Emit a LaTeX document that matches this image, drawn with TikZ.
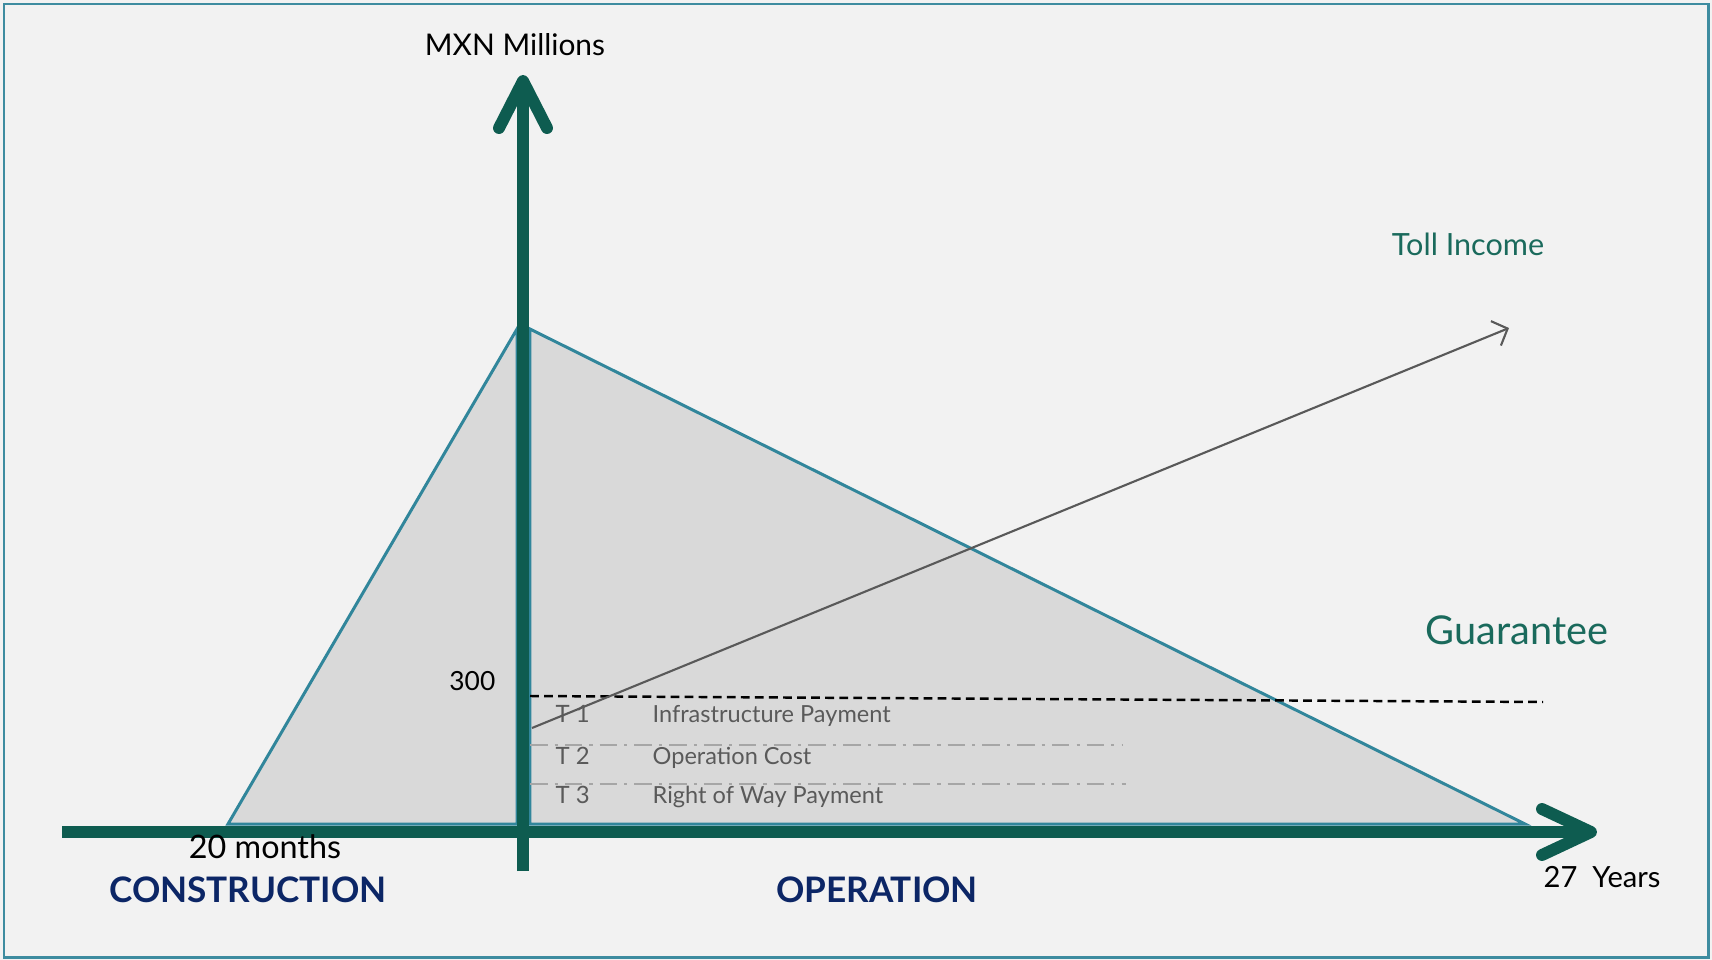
\documentclass[tikz,border=0pt]{standalone}
\usepackage{fontspec}
\setmainfont{Lato}
\usetikzlibrary{arrows.meta}

\definecolor{bggray}{RGB}{242,242,242}
\definecolor{frameteal}{RGB}{62,140,160}
\definecolor{axisgreen}{RGB}{14,92,80}
\definecolor{edgeteal}{RGB}{49,134,155}
\definecolor{areagray}{RGB}{217,217,217}
\definecolor{tollgray}{RGB}{89,89,89}
\definecolor{tiergray}{RGB}{166,166,166}
\definecolor{labelgray}{RGB}{90,90,90}
\definecolor{textgreen}{RGB}{26,106,92}
\definecolor{phasenavy}{RGB}{12,38,102}

\tikzset{
  axis/.style={draw=axisgreen, line width=3.4pt},
  axistip/.style={axis, line cap=round, line join=round},
  area/.style={fill=areagray, draw=edgeteal, line width=0.85pt, line join=miter},
  toll/.style={draw=tollgray, line width=0.6pt, -{Straight Barb[length=3.6pt,width=7.5pt]}},
  guarantee/.style={draw=black, line width=0.7pt, dash pattern=on 2.5pt off 1.5pt},
  tier/.style={draw=tiergray, line width=0.6pt, dash pattern=on 5pt off 2pt on 0.9pt off 2pt},
  lbl/.style={inner sep=0pt, font=\fontsize{#1}{#1}\selectfont},
  lbl/.default=9pt
}

\begin{document}
\begin{tikzpicture}[x=0.1mm, y=-0.1mm]
  \useasboundingbox (0,0) rectangle (1712,960);
  \fill[bggray] (0,0) rectangle (1712,960);
  \draw[frameteal, line width=0.85pt] (4,4) rectangle (1708,957);

  % axes end points
  \coordinate (O) at (523,832);
  \coordinate (ytop) at (523,81);
  \coordinate (ybot) at (523,871);
  \coordinate (xleft) at (62,832);
  \coordinate (xtip) at (1591,832);

  % construction and operation areas
  \coordinate (cstart) at (228,824);
  \coordinate (cpeak) at (517,329);
  \coordinate (cend) at (517,824);
  \coordinate (opeak) at (530,329);
  \coordinate (oend) at (1525,824);
  \coordinate (obase) at (530,824);
  \draw[area] (cstart) -- (cpeak) -- (cend) -- cycle;
  \draw[area] (opeak) -- (oend) -- (obase) -- cycle;

  % axes
  \draw[axis] (xleft) -- (xtip);
  \draw[axis] (ybot) -- (ytop);
  \draw[axistip] (xtip) ++(-49,-23) -- (xtip) -- ++(-49,23);
  \draw[axistip] (ytop) ++(-24,47) -- (ytop) -- ++(24,47);

  % tiers and guarantee
  \coordinate (g1) at (530,696);
  \coordinate (g2) at (1543,702);
  \coordinate (t2a) at (530,745);
  \coordinate (t2b) at (1123,745);
  \coordinate (t3a) at (530,784);
  \coordinate (t3b) at (1126,784);
  \draw[tier] (t2a) -- (t2b);
  \draw[tier] (t3a) -- (t3b);
  \draw[guarantee] (g1) -- (g2);

  % toll income
  \coordinate (toll0) at (532,728);
  \coordinate (toll1) at (1509,328);
  \draw[toll] (toll0) -- (toll1);

  % labels
  \node[lbl=8.5pt, anchor=base] (ylabel) at (515,55) {MXN Millions};
  \node[lbl=8.7pt, anchor=base, text=textgreen] (tolllabel) at (1468,255) {Toll Income};
  \node[lbl=11.3pt, anchor=base, text=textgreen] (guarlabel) at (1517,644) {Guarantee};
  \node[lbl=7.5pt, anchor=base east] (v300) at (496,690) {300};
  \node[lbl=6.8pt, anchor=base west, text=labelgray] (tone) at (555,722) {T 1};
  \node[lbl=6.8pt, anchor=base west, text=labelgray] (ttwo) at (555,764) {T 2};
  \node[lbl=6.8pt, anchor=base west, text=labelgray] (tthree) at (555,803) {T 3};
  \node[lbl=6.7pt, anchor=base west, text=labelgray] (infra) at (652,722) {Infrastructure Payment};
  \node[lbl=6.7pt, anchor=base west, text=labelgray] (opcost) at (652,764) {Operation Cost};
  \node[lbl=6.7pt, anchor=base west, text=labelgray] (row) at (652,803) {Right of Way Payment};
  \node[lbl=9.2pt, anchor=base] (months) at (265,858) {20 months};
  \node[lbl=8.3pt, anchor=base west] (years) at (1543,887) {27\ \ Years};
  \node[lbl=10.1pt, anchor=base, text=phasenavy, font=\bfseries] (constr) at (248,902) {CONSTRUCTION};
  \node[lbl=9.8pt, anchor=base, text=phasenavy, font=\bfseries] (oper) at (877,902) {OPERATION};
\end{tikzpicture}
\end{document}
